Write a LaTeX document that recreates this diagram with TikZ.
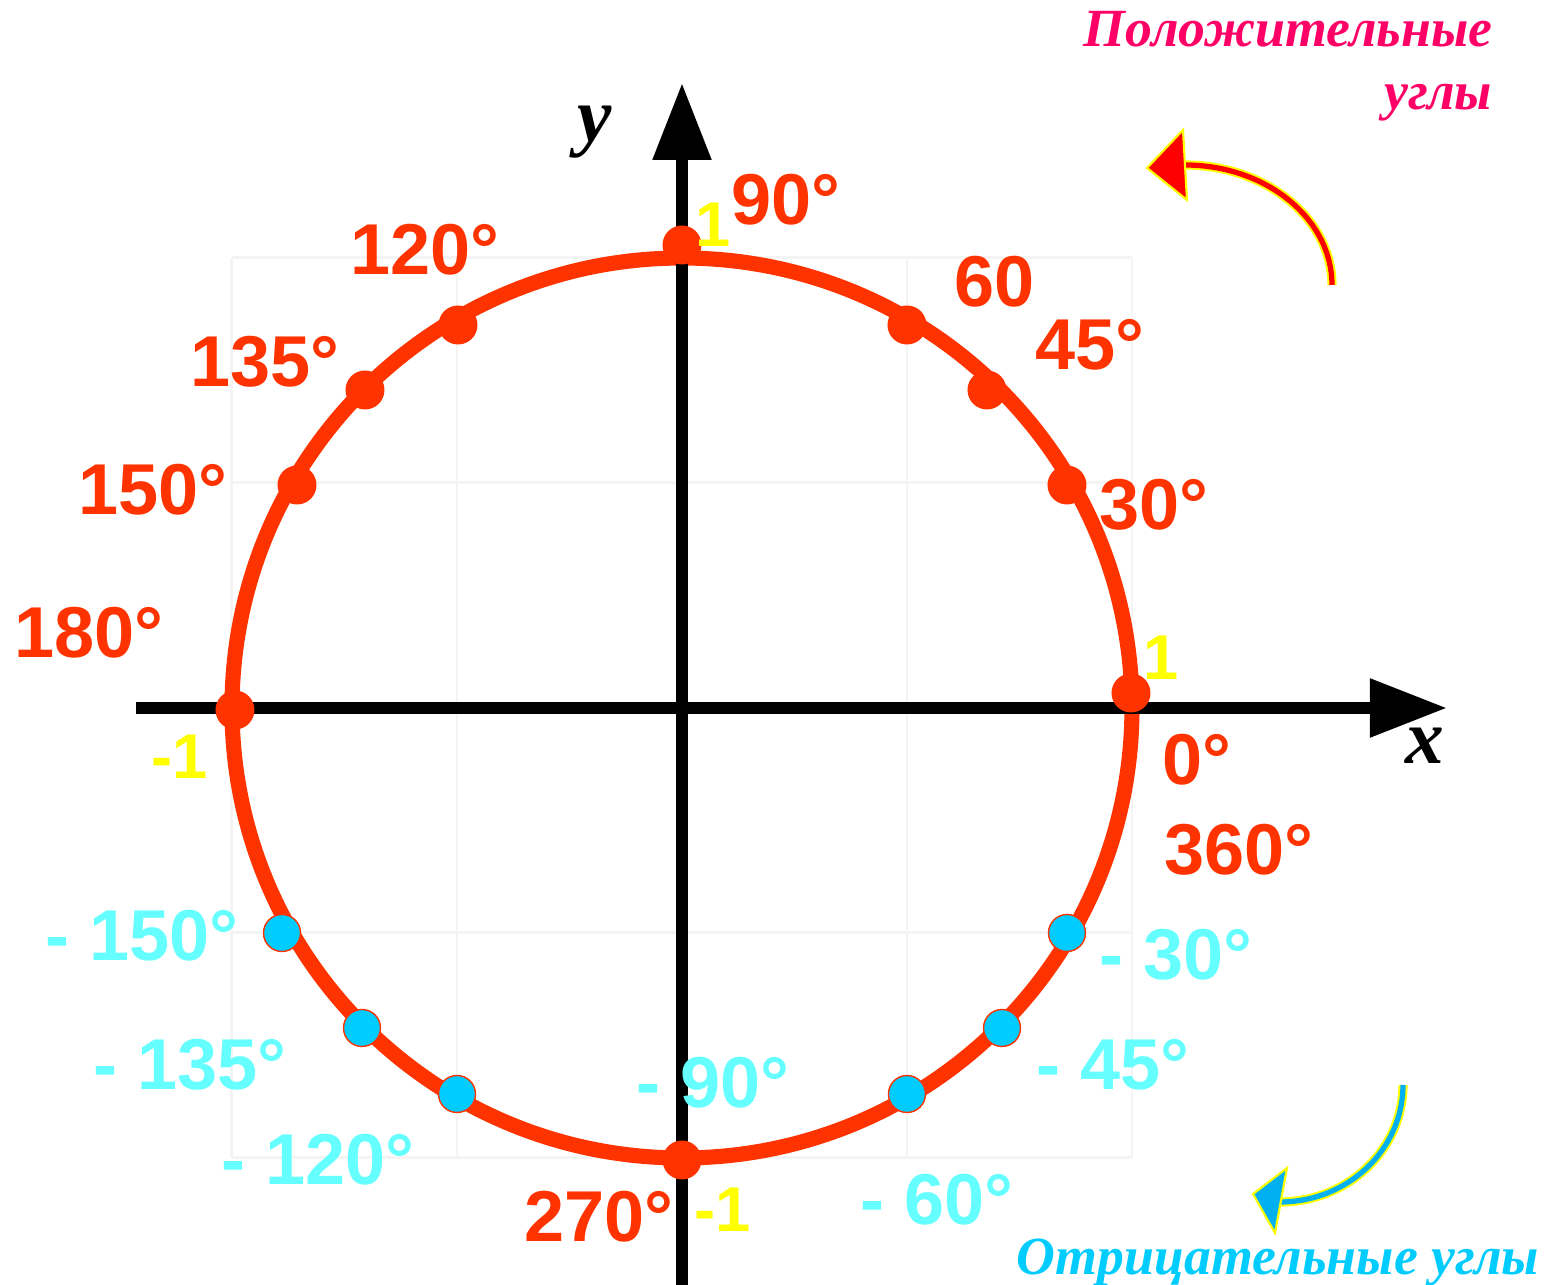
\documentclass[tikz,border=0pt]{standalone}
\usepackage{fontspec}
\setmainfont{Liberation Sans}
\newfontfamily\titlefont{Liberation Serif}
\usepackage{tikz}
\usetikzlibrary{arrows.meta}
\definecolor{circred}{RGB}{255,51,0}
\definecolor{negcyan}{RGB}{102,255,255}
\definecolor{dotblue}{RGB}{0,204,255}
\definecolor{unityellow}{RGB}{255,255,0}
\definecolor{titlepink}{RGB}{255,0,102}
\definecolor{arrowblue}{RGB}{0,176,240}
\definecolor{gridgray}{RGB}{244,244,244}

\begin{document}
\begin{tikzpicture}[
  posdeg/.style={font=\fontsize{20.5}{24}\selectfont\bfseries,text=circred,inner sep=0pt},
  negdeg/.style={posdeg,text=negcyan},
  unitlbl/.style={font=\fontsize{18}{20}\selectfont\bfseries,text=unityellow,inner sep=0pt},
  axlbl/.style={font=\titlefont\fontsize{22}{24}\selectfont\bfseries\itshape,inner sep=0pt},
  titlelbl/.style={font=\titlefont\fontsize{15.3}{18}\selectfont\bfseries\itshape,inner sep=0pt},
  posdot/.style={circle,fill=circred,minimum size=3.9mm,inner sep=0pt},
  negdot/.style={circle,fill=dotblue,draw=circred,line width=0.4pt,minimum size=3.7mm,inner sep=0pt},
  gridline/.style={gridgray,line width=0.85pt}]
  \useasboundingbox (-6.82,-5.77) rectangle (8.67,7.08);

  \foreach \g in {-4.5,-2.25,2.25,4.5} {
    \draw[gridline] (\g,-4.5) -- (\g,4.5);
    \draw[gridline] (-4.5,\g) -- (4.5,\g);
  }
  \draw[circred,line width=4.3pt] (0,0) circle[radius=4.5];

  \coordinate (xstart) at (-5.46,0);
  \coordinate (xend) at (7.65,0);
  \coordinate (ystart) at (0,-5.8);
  \coordinate (yend) at (0,6.25);
  \draw[-{Triangle[length=7.7mm,width=5.6mm]},line width=3.4pt] (xstart) -- (xend);
  \draw[-{Triangle[length=7.7mm,width=5.6mm]},line width=3.4pt] (ystart) -- (yend);
  \node[axlbl] (xlbl) at (7.43,-0.38) {x};
  \node[axlbl] (ylbl) at (-0.87,5.76) {y};

  \foreach \name/\x/\y in {d0/4.49/0.15, d30/3.85/2.23, d45/3.05/3.18, d60/2.25/3.83,
      d90/0/4.63, d120/-2.24/3.83, d135/-3.17/3.18, d150/-3.85/2.23, d180/-4.47/-0.02, d270/0/-4.52}
    \node[posdot] (\name) at (\x,\y) {};
  \foreach \name/\x/\y in {m30/3.85/-2.25, m45/3.20/-3.20, m60/2.25/-3.86,
      m120/-2.25/-3.86, m135/-3.20/-3.20, m150/-4.00/-2.25}
    \node[negdot] (\name) at (\x,\y) {};

  \node[posdeg] (l90) at (1.04,5.08) {90°};
  \node[posdeg] (l120) at (-2.57,4.58) {120°};
  \node[posdeg] (l135) at (-4.17,3.46) {135°};
  \node[posdeg] (l150) at (-5.29,2.18) {150°};
  \node[posdeg] (l180) at (-5.93,0.75) {180°};
  \node[posdeg] (l60) at (3.13,4.26) {60};
  \node[posdeg] (l45) at (4.08,3.63) {45°};
  \node[posdeg] (l30) at (4.72,2.03) {30°};
  \node[posdeg] (l0) at (5.15,-0.52) {0°};
  \node[posdeg] (l360) at (5.57,-1.42) {360°};
  \node[posdeg] (l270) at (-0.83,-5.09) {270°};

  \node[negdeg] (lm150) at (-5.40,-2.28) {- 150°};
  \node[negdeg] (lm135) at (-4.92,-3.57) {- 135°};
  \node[negdeg] (lm120) at (-3.64,-4.52) {- 120°};
  \node[negdeg] (lm90) at (0.31,-3.75) {- 90°};
  \node[negdeg] (lm60) at (2.55,-4.92) {- 60°};
  \node[negdeg] (lm45) at (4.31,-3.57) {- 45°};
  \node[negdeg] (lm30) at (4.94,-2.47) {- 30°};

  \node[unitlbl] (utop) at (0.31,4.83) {1};
  \node[unitlbl] (uright) at (4.79,0.50) {1};
  \node[unitlbl] (uleft) at (-5.02,-0.49) {-1};
  \node[unitlbl] (ubottom) at (0.41,-5.02) {-1};

  \node[titlelbl,text=titlepink,anchor=base east] (postitle) at (8.11,6.61) {Положительные};
  \node[titlelbl,text=titlepink,anchor=base east] (postitle2) at (8.11,5.98) {углы};
  \node[titlelbl,text=dotblue,anchor=base east] (negtitle) at (8.58,-5.67) {Отрицательные углы};

  \coordinate (postail) at (6.50,4.23);
  \coordinate (poshead) at (5.03,5.43);
  \draw[unityellow,line width=2.6pt] (postail) arc[start angle=0,end angle=90,x radius=1.47,y radius=1.2];
  \draw[red,line width=1.5pt] (postail) arc[start angle=0,end angle=90,x radius=1.47,y radius=1.2];
  \filldraw[fill=red,draw=unityellow,line width=0.6pt] (4.65,5.40) -- (5.01,5.78) -- (5.05,5.08) -- cycle;

  \coordinate (negtail) at (7.21,-3.77);
  \coordinate (neghead) at (5.98,-4.94);
  \draw[unityellow,line width=2.6pt] (negtail) arc[start angle=0,end angle=-90,x radius=1.23,y radius=1.17];
  \draw[arrowblue,line width=1.5pt] (negtail) arc[start angle=0,end angle=-90,x radius=1.23,y radius=1.17];
  \filldraw[fill=arrowblue,draw=unityellow,line width=0.6pt] (5.71,-4.86) -- (6.05,-4.60) -- (5.93,-5.25) -- cycle;
\end{tikzpicture}
\end{document}
